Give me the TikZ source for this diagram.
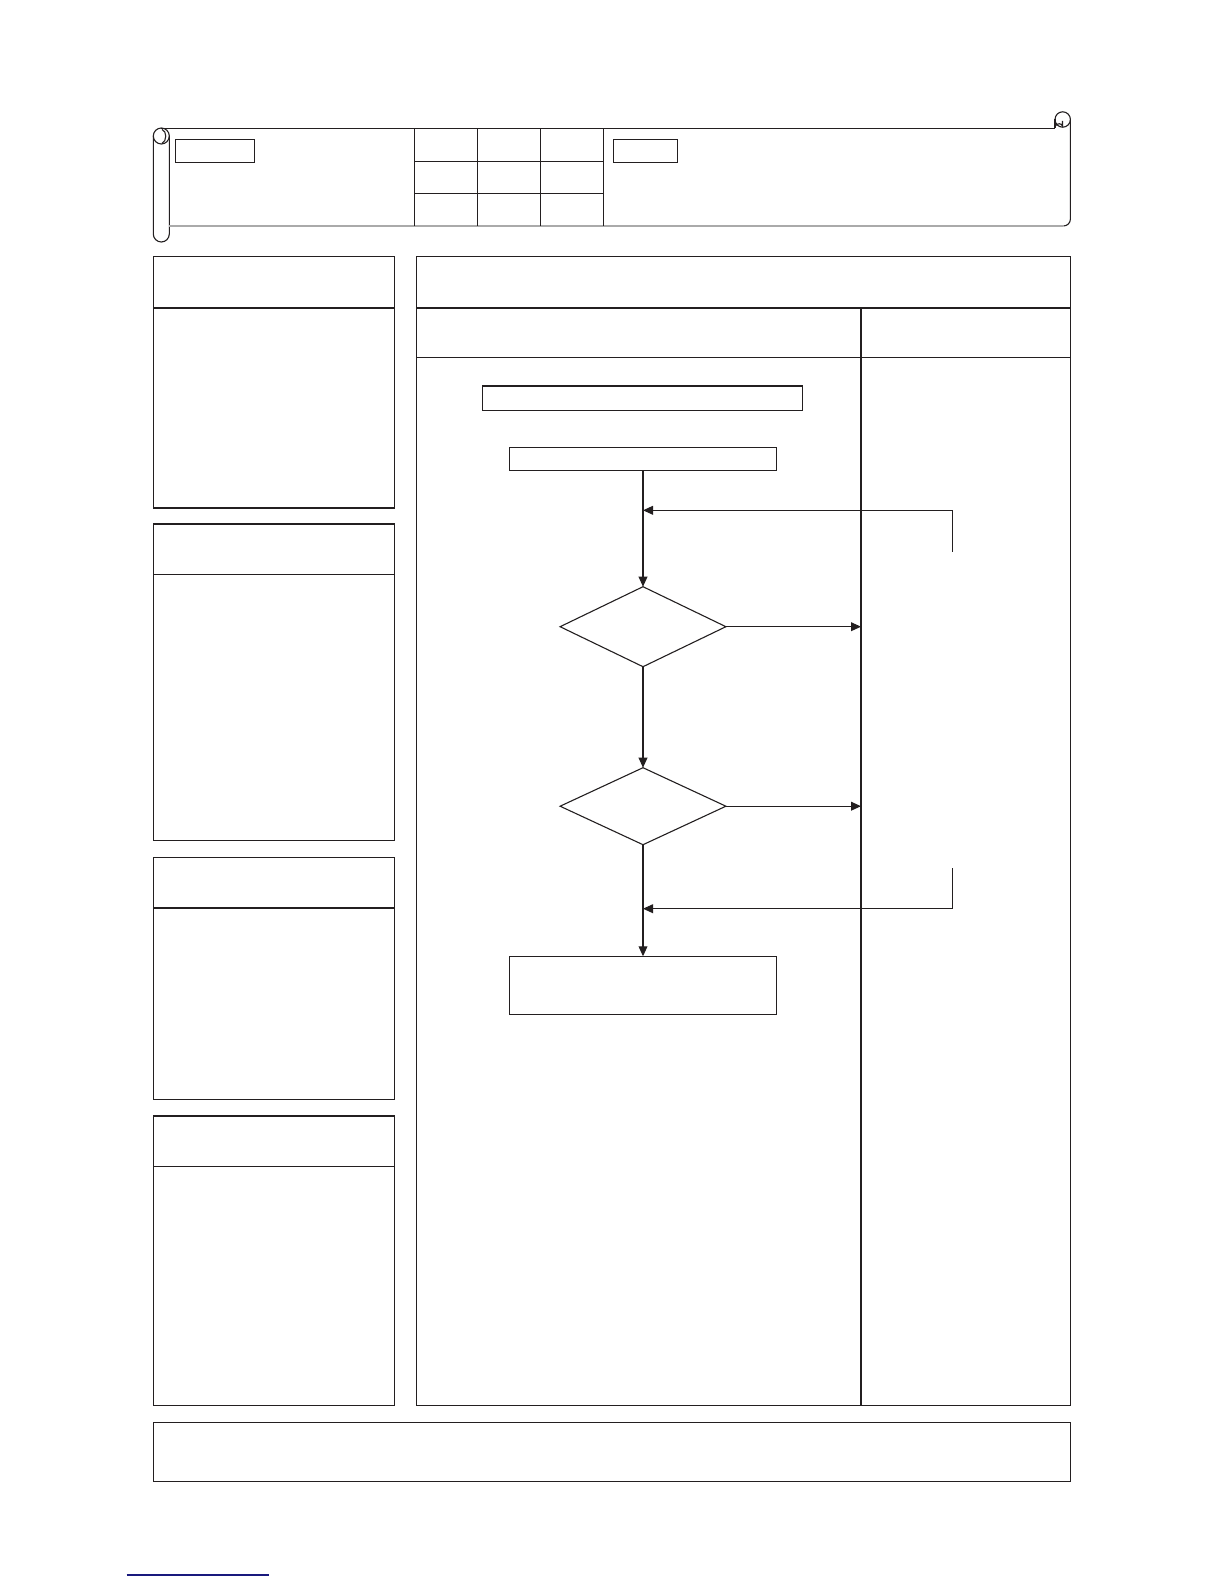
\documentclass[tikz,border=0pt]{standalone}
\usetikzlibrary{shapes.geometric,arrows.meta}
\definecolor{ink}{RGB}{35,31,32}
\definecolor{rollgrey}{RGB}{170,170,170}
\definecolor{linkblue}{RGB}{25,25,125}
\tikzset{
  frame/.style={draw=ink,line width=0.65pt},
  thin/.style={draw=ink,line width=0.55pt},
  stepbox/.style={draw=ink,line width=0.65pt,rectangle,inner sep=0pt,outer sep=0pt},
  decision/.style={draw=ink,line width=0.55pt,diamond,inner sep=0pt,outer sep=0pt,minimum width=82.9pt},
  flow/.style={draw=ink,line width=0.55pt,-{Triangle[length=5pt,width=4.4pt]}},
  plain/.style={draw=ink,line width=0.55pt}
}
\begin{document}
\begin{tikzpicture}[x=0.5pt,y=-0.5pt]
\useasboundingbox (0,0) rectangle (1224,1584);
\fill[white] (0,0) rectangle (1224,1584);

% ---------- header scroll ----------
% left roll
\draw[thin] (153.3,136) -- (153.3,234) arc[start angle=180,end angle=0,radius=8] -- (169.3,136);
\draw[thin] (161.3,136) circle[radius=8];
\draw[thin] (162,129.5) .. controls (167,131) and (167,141) .. (162,143.5);
% top edge
\draw[thin] (161.3,128.3) -- (1055,128.3);
% right curl
\draw[thin] (1062.7,119.5) circle[radius=7.7];
\draw[thin] (1055,119.5) -- (1055,128.3);
\draw[thin] (1055,126) .. controls (1058,123) and (1061,123) .. (1062.5,126) -- (1062.5,121);
% right edge and bottom edge
\draw[thin] (1070.4,119.5) -- (1070.4,219) arc[start angle=0,end angle=90,radius=7];
\draw[draw=rollgrey,line width=0.9pt] (169.3,226) -- (1063.2,226);
% grid in header
\draw[thin] (414.3,128.3) -- (414.3,226);
\draw[thin] (477.3,128.3) -- (477.3,226);
\draw[thin] (540.3,128.3) -- (540.3,226);
\draw[thin] (603.3,128.3) -- (603.3,226);
\draw[thin] (414.3,161.3) -- (603.3,161.3);
\draw[thin] (414.3,193.3) -- (603.3,193.3);
% small label boxes
\draw[thin] (175.3,139.3) rectangle (254.7,162.3);
\draw[thin] (613.3,139.3) rectangle (677.7,162.3);

% ---------- left column ----------
\draw[frame] (153.3,256.5) rectangle (394.7,508);
\draw[frame] (153.3,308) -- (394.7,308);
\draw[frame] (153.3,524.1) rectangle (394.7,840.2);
\draw[frame] (153.3,574.6) -- (394.7,574.6);
\draw[frame] (153.3,857.4) rectangle (394.7,1099.8);
\draw[frame] (153.3,907.9) -- (394.7,907.9);
\draw[frame] (153.3,1116) rectangle (394.7,1405.5);
\draw[frame] (153.3,1166.4) -- (394.7,1166.4);

% ---------- right panel ----------
\draw[frame] (416.3,256.5) rectangle (1070.5,1405.5);
\draw[frame] (416.3,308) -- (1070.5,308);
\draw[frame] (416.3,357.5) -- (1070.5,357.5);
\draw[frame] (861,308) -- (861,1405.5);

% ---------- bottom box ----------
\draw[frame] (153.3,1422.3) rectangle (1070.5,1481.3);

% ---------- flowchart ----------
\node[stepbox,minimum width=160.2pt,minimum height=12.15pt] (r1) at (642.5,398.2) {};
\node[stepbox,minimum width=133.5pt,minimum height=11.5pt] (r2) at (643,458.8) {};
\node[decision,minimum height=40pt] (d1) at (643,626.7) {};
\node[decision,minimum height=38.5pt] (d2) at (643,806.2) {};
\node[stepbox,line width=0.55pt,minimum width=133.7pt,minimum height=29pt] (r3) at (643,985.3) {};

\coordinate (e1) at (861,626.7);
\coordinate (e2) at (861,806.2);
\coordinate (j1) at (643,510.3);
\coordinate (j2) at (643,908.7);
\coordinate (l1) at (952.7,551.7);
\coordinate (l2) at (952.7,868);

\draw[flow] (r2.south) -- (d1.north);
\draw[flow] (l1) |- (j1);
\draw[flow] (d1.east) -- (e1);
\draw[flow] (d1.south) -- (d2.north);
\draw[flow] (d2.east) -- (e2);
\draw[flow] (d2.south) -- (r3.north);
\draw[flow] (l2) |- (j2);

% ---------- footer rule ----------
\draw[draw=linkblue,line width=0.7pt] (126.7,1575) -- (269,1575);
\end{tikzpicture}
\end{document}
